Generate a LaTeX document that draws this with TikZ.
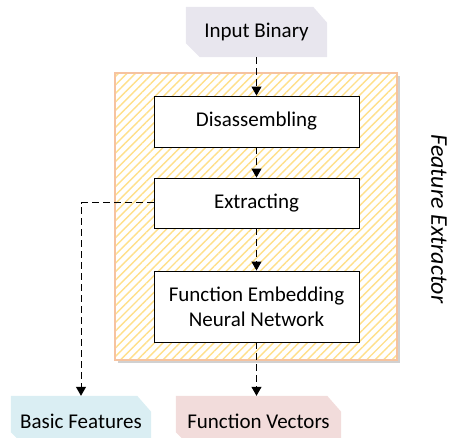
\documentclass[tikz,border=0pt]{standalone}
\usepackage{fontspec}
\setmainfont{Carlito}
\usetikzlibrary{arrows.meta,patterns.meta,backgrounds}
\definecolor{lav}{HTML}{E8E6EE}
\definecolor{lblue}{HTML}{DAEEF3}
\definecolor{lpink}{HTML}{F2DCDB}
\definecolor{hatch}{HTML}{FFE08A}
\definecolor{rim}{HTML}{F6C3A0}
\tikzset{
  box/.style={draw=black, line width=0.9pt, fill=white, minimum width=205pt, inner sep=0pt, align=center, font=\fontsize{21}{25}\selectfont},
  tag/.style={inner sep=0pt, minimum height=50pt, font=\fontsize{21}{25}\selectfont},
  flow/.style={draw=black, line width=1pt, dash pattern=on 7pt off 4pt, -{Triangle[width=10pt,length=9pt]}},
}
\begin{document}
\begin{tikzpicture}[x=1pt,y=-1pt]
\useasboundingbox (0,0) rectangle (449,438);
\clip (0,0) rectangle (449,438);
% outer feature extractor box
\fill[black!40, opacity=0.45] (118,76) rectangle (400,363);
\fill[white] (115,73) rectangle (397,360);
\fill[pattern={Lines[angle=45,distance=6pt,line width=1.4pt]}, pattern color=hatch] (115,73) rectangle (397,360);
\draw[rim, line width=2.4pt] (115,73) rectangle (397,360);
\node[rotate=-90, font=\fontsize{24}{28}\selectfont\itshape] (lab) at (439,219) {Feature Extractor};
% nodes
\node[tag, minimum width=141pt] (in) at (256.5,32) {Input Binary};
\node[box, minimum height=51pt] (dis) at (256.5,121.5) {Disassembling};
\node[box, minimum height=50pt] (ext) at (256.5,203) {Extracting};
\node[box, minimum height=71pt] (fe) at (256.5,306.5) {Function Embedding\\Neural Network};
\node[tag, minimum width=140pt] (bf) at (81,421) {Basic Features};
\node[tag, minimum width=165pt] (fv) at (258.5,421) {Function Vectors};
\begin{scope}[on background layer]
\foreach \n/\c in {in/lav, bf/lblue, fv/lpink}{
  \fill[\c] (\n.north west) -- ([xshift=-14pt]\n.north east) -- ([yshift=-16pt]\n.north east)
    -- (\n.south east) -- ([xshift=14pt]\n.south west) -- ([yshift=14pt]\n.south west) -- cycle;
}
\end{scope}
% connectors
\draw[flow] (in.south) -- (dis.north);
\draw[flow] (dis.south) -- (ext.north);
\draw[flow] (ext.south) -- (fe.north);
\draw[flow] (fe.south) -- (fe.south |- fv.north);
\draw[flow] (ext.west) -| (bf.north);
\end{tikzpicture}
\end{document}
